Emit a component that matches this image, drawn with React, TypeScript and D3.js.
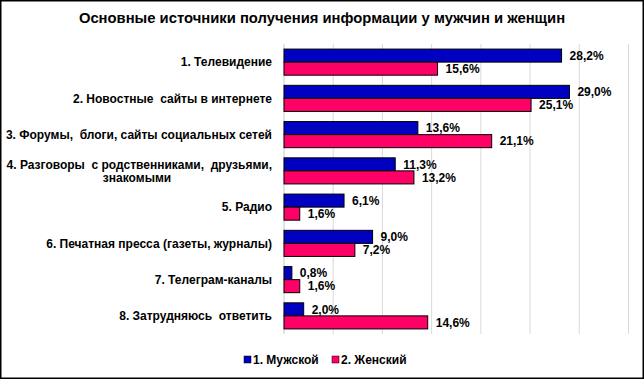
import React from "react";
import * as d3 from "d3";

const categories: string[][] = [
  ["1. Телевидение"],
  ["2. Новостные  сайты в интернете"],
  ["3. Форумы,  блоги, сайты социальных сетей"],
  ["4. Разговоры  с родственниками,  друзьями,", "знакомыми"],
  ["5. Радио"],
  ["6. Печатная пресса (газеты, журналы)"],
  ["7. Телеграм-каналы"],
  ["8. Затрудняюсь  ответить"],
];
const male = [28.2, 29.0, 13.6, 11.3, 6.1, 9.0, 0.8, 2.0];
const female = [15.6, 25.1, 21.1, 13.2, 1.6, 7.2, 1.6, 14.6];
const seriesNames = ["1. Мужской", "2. Женский"];
const ticks = [0, 5, 10, 15, 20, 25, 30, 35];

const W = 644;
const H = 379;
const colors = ["#0000C0", "#FF0066"];
const font = "'Liberation Sans', Arial, sans-serif";

export default function App() {
  const x = d3.scaleLinear().domain([0, 35]).range([284, 628.5]);
  const y = d3
    .scaleBand<number>()
    .domain(d3.range(categories.length))
    .range([44, 334])
    .paddingInner(0.28)
    .paddingOuter(0.14);
  const bh = y.bandwidth() / 2;
  const fmt = (v: number) => v.toFixed(1).replace(".", ",") + "%";
  const series = [male, female];
  return (
    <svg
      width={W}
      height={H}
      style={{ position: "absolute", left: 0, top: 0, background: "#fff" }}
      fontFamily={font}
    >
      <rect x={0.75} y={0.75} width={W - 1.5} height={H - 1.5} fill="#fff" stroke="#000" strokeWidth={1.5} />
      <text x={322} y={23} textAnchor="middle" fontSize={14.8} fontWeight="bold" fill="#000">
        Основные источники получения информации у мужчин и женщин
      </text>
      {ticks.map((t) => (
        <line key={t} x1={x(t)} x2={x(t)} y1={44} y2={334} stroke={t === 0 ? "#c8c8c8" : "#d9d9d9"} strokeWidth={1} />
      ))}
      {categories.map((lines, i) => {
        const cy = (y(i) as number) + y.bandwidth() / 2;
        if (lines.length === 1) {
          return (
            <text key={i} x={272} y={cy} dy="0.35em" textAnchor="end" fontSize={12} fontWeight="bold" style={{ whiteSpace: "pre" }}>
              {lines[0]}
            </text>
          );
        }
        return (
          <g key={i}>
            <text x={272} y={cy - 6} dy="0.35em" textAnchor="end" fontSize={12} fontWeight="bold" style={{ whiteSpace: "pre" }}>
              {lines[0]}
            </text>
            <text x={137} y={cy + 6.5} dy="0.35em" textAnchor="middle" fontSize={12} fontWeight="bold">
              {lines[1]}
            </text>
          </g>
        );
      })}
      {series.map((vals, s) =>
        vals.map((v, i) => {
          const by = (y(i) as number) + s * bh;
          return (
            <g key={`${s}-${i}`}>
              <rect
                x={x(0)}
                y={by}
                width={x(v) - x(0)}
                height={bh}
                fill={colors[s]}
                stroke="#000"
                strokeWidth={1}
              />
              <text x={x(v) + 8} y={by + bh / 2} dy="0.35em" fontSize={12} fontWeight="bold">
                {fmt(v)}
              </text>
            </g>
          );
        })
      )}
      {seriesNames.map((n, s) => {
        const lx = s === 0 ? 244 : 332;
        return (
          <g key={n}>
            <rect x={lx} y={356} width={7} height={7} fill={colors[s]} stroke="#000" strokeWidth={0.5} />
            <text x={lx + 9} y={359.5} dy="0.35em" fontSize={12} fontWeight="bold">
              {n}
            </text>
          </g>
        );
      })}
    </svg>
  );
}
